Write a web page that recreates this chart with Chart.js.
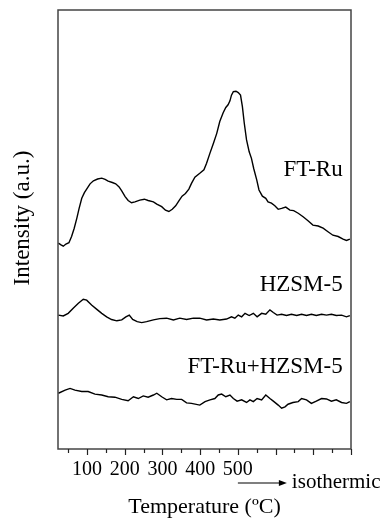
<!DOCTYPE html>
<html>
<head>
<meta charset="utf-8">
<script src="https://cdn.jsdelivr.net/npm/chart.js@4/dist/chart.umd.min.js"></script>
<style>
  body { margin: 0; background: #fff; }
  canvas { display: block; }
</style>
</head>
<body>
<canvas id="tpd" width="385" height="520"></canvas>
<script>
// ─── Data (temperature °C / intensity a.u.) ─────────
const ftRuT = [24, 31, 37, 44, 52, 59, 66, 73, 79, 86, 93, 99, 108, 117, 128, 139, 148, 156, 167, 176,
  185, 192, 201, 209, 218, 227, 240, 252, 262, 276, 285, 298, 308, 317, 326, 335, 344, 352, 361, 370,
  377, 386, 399, 410, 417, 426, 435, 444, 452, 461, 468, 474, 479, 483, 488, 495, 501, 507, 512, 517,
  523, 530, 536, 542, 550, 556, 565, 574, 580, 589, 598, 607, 616, 627, 638, 648, 660, 673, 686, 699,
  713, 726, 739, 752, 766, 779, 788, 797];
const ftRuI = [46.9, 46.5, 46.2, 46.7, 47.0, 48.4, 50.3, 52.6, 54.8, 57.1, 58.4, 59.2, 60.4, 61.1, 61.5, 61.7, 61.4, 61.0, 60.7, 60.4,
  59.7, 58.8, 57.5, 56.6, 56.1, 56.3, 56.7, 56.9, 56.6, 56.3, 55.8, 55.2, 54.4, 54.1, 54.6, 55.4, 56.6, 57.6, 58.2, 59.2,
  60.5, 61.9, 62.8, 63.6, 65.1, 67.4, 69.6, 71.9, 74.6, 76.6, 77.8, 78.4, 79.3, 80.6, 81.4, 81.5, 81.2, 80.6, 78.0, 74.2,
  70.4, 67.7, 66.2, 63.9, 61.3, 59.0, 57.6, 57.1, 56.3, 56.0, 55.4, 54.6, 54.8, 55.1, 54.4, 54.3, 53.7, 52.9, 52.0, 51.0,
  50.8, 50.3, 49.5, 48.7, 48.4, 47.8, 47.5, 47.8];

const hzsmT = [24, 37, 50, 64, 77, 90, 99, 112, 126, 139, 152, 165, 179, 192, 203, 212, 221, 233, 245, 258,
  276, 293, 311, 329, 346, 364, 382, 399, 417, 435, 452, 470, 483, 492, 501, 510, 519, 530, 541, 551,
  563, 574, 585, 594, 604, 616, 629, 642, 656, 669, 682, 695, 708, 722, 735, 748, 761, 775, 788, 797];
const hzsmI = [30.5, 30.3, 30.9, 32.1, 33.2, 34.1, 33.9, 32.8, 31.8, 30.9, 30.1, 29.5, 29.2, 29.4, 30.1, 30.5, 29.5, 29.0, 28.8, 29.0,
  29.4, 29.7, 29.8, 29.4, 29.8, 29.5, 29.8, 29.8, 29.4, 29.6, 29.4, 29.6, 30.1, 29.8, 30.5, 30.1, 30.9, 30.4, 30.9, 30.1,
  30.9, 30.7, 31.7, 31.1, 30.5, 30.7, 30.4, 30.7, 30.4, 30.7, 30.4, 30.7, 30.4, 30.7, 30.5, 30.7, 30.4, 30.5, 30.1, 30.4];

const mixT = [24, 42, 55, 68, 86, 103, 121, 139, 156, 174, 192, 209, 223, 236, 249, 262, 276, 285, 298, 311,
  324, 338, 351, 364, 377, 399, 413, 426, 439, 448, 457, 468, 479, 488, 498, 510, 523, 532, 541, 551,
  563, 574, 585, 594, 607, 616, 625, 633, 646, 660, 669, 682, 695, 708, 722, 735, 748, 761, 775, 788, 797];
const mixI = [12.7, 13.4, 13.8, 13.4, 13.1, 13.1, 12.5, 12.3, 11.9, 11.8, 11.3, 11.0, 11.9, 11.5, 12.1, 11.8, 12.3, 12.7, 11.9, 11.2,
  11.5, 11.3, 11.3, 10.5, 10.4, 10.0, 10.8, 11.2, 11.5, 12.3, 12.5, 11.9, 12.3, 11.5, 10.9, 11.2, 10.6, 11.2, 10.8, 11.5,
  11.2, 12.3, 11.5, 10.9, 10.0, 9.3, 9.6, 10.2, 10.6, 10.8, 11.5, 11.2, 10.4, 10.9, 11.5, 11.4, 10.9, 11.2, 10.6, 10.4, 10.8];

const seriesNames = ['FT-Ru', 'HZSM-5', 'FT-Ru+HZSM-5'];
const labelledTicks = [100, 200, 300, 400, 500];
const tickValues = [50, 100, 150, 200, 250, 300, 350, 400, 450, 500, 550, 600, 650, 700, 750, 800];

// ─── Helpers ────────────────────────────────────────
const SERIF = "'Liberation Serif', 'Times New Roman', serif";
function pts(xs, ys) { return xs.map((x, i) => ({ x, y: ys[i] })); }

// curve labels sit at data coords, right aligned
const curveLabels = [
  { text: seriesNames[0], x: 778, y: 63.6 },
  { text: seriesNames[1], x: 778, y: 37.4 },
  { text: seriesNames[2], x: 778, y: 18.7 },
];

// ─── Frame, tick marks, annotations ─────────────────
const decor = {
  id: 'decor',
  afterDraw(chart) {
    const { ctx, chartArea: a, scales: { x, y } } = chart;
    ctx.save();
    // box
    ctx.strokeStyle = '#444';
    ctx.lineWidth = 1.5;
    ctx.strokeRect(a.left, a.top, a.right - a.left, a.bottom - a.top);

    // outward ticks on bottom axis, long for hundreds
    ctx.lineWidth = 1.2;
    ctx.strokeStyle = '#222';
    x.ticks.forEach(t => {
      const px = Math.round(x.getPixelForValue(t.value)) + 0.5;
      ctx.beginPath();
      ctx.moveTo(px, a.bottom);
      ctx.lineTo(px, a.bottom + (t.value % 100 === 0 ? 6 : 4));
      ctx.stroke();
    });

    // arrow -> isothermic
    const ay = 483;
    const x0 = x.getPixelForValue(500);
    const x1 = x0 + 49;
    ctx.strokeStyle = '#000';
    ctx.lineWidth = 1.2;
    ctx.beginPath();
    ctx.moveTo(x0, ay);
    ctx.lineTo(x1 - 6, ay);
    ctx.stroke();
    ctx.fillStyle = '#000';
    ctx.beginPath();
    ctx.moveTo(x1, ay);
    ctx.lineTo(x1 - 8, ay - 3);
    ctx.lineTo(x1 - 8, ay + 3);
    ctx.closePath();
    ctx.fill();
    ctx.font = `21px ${SERIF}`;
    ctx.textBaseline = 'middle';
    ctx.textAlign = 'left';
    ctx.fillText('isothermic', x1 + 5, ay - 1);

    // y title
    ctx.save();
    ctx.translate(23, 218);
    ctx.rotate(-Math.PI / 2);
    ctx.textAlign = 'center';
    ctx.font = `23px ${SERIF}`;
    ctx.fillText('Intensity (a.u.)', 0, 0);
    ctx.restore();

    // curve labels
    ctx.font = `23px ${SERIF}`;
    ctx.textAlign = 'right';
    curveLabels.forEach(l => {
      ctx.fillText(l.text, x.getPixelForValue(l.x), y.getPixelForValue(l.y));
    });
    ctx.restore();
  }
};

// ─── Chart ──────────────────────────────────────────
const lineStyle = { borderColor: '#000', borderWidth: 1.4, pointRadius: 0, tension: 0, fill: false };

new Chart(document.getElementById('tpd'), {
  type: 'line',
  data: {
    datasets: [
      { label: seriesNames[0], data: pts(ftRuT, ftRuI), ...lineStyle },
      { label: seriesNames[1], data: pts(hzsmT, hzsmI), ...lineStyle },
      { label: seriesNames[2], data: pts(mixT, mixI), ...lineStyle },
    ]
  },
  options: {
    responsive: false,
    animation: false,
    layout: { padding: { left: 58, right: 34, top: 10, bottom: 0 } },
    plugins: { legend: { display: false }, tooltip: { enabled: false } },
    scales: {
      x: {
        type: 'linear',
        min: 23,
        max: 800,
        afterBuildTicks: s => { s.ticks = tickValues.map(v => ({ value: v })); },
        afterFit: s => { s.height = 71; },
        grid: { display: false, drawTicks: false },
        border: { display: false },
        ticks: {
          autoSkip: false,
          maxRotation: 0,
          padding: 9,
          color: '#000',
          font: { family: SERIF, size: 20 },
          callback: v => labelledTicks.includes(v) ? String(v) : ''
        },
        title: {
          display: true,
          text: 'Temperature (ºC)',
          color: '#000',
          font: { family: SERIF, size: 22 },
          padding: 0
        }
      },
      y: {
        display: false,
        min: 0,
        max: 100
      }
    }
  },
  plugins: [decor]
});
</script>
</body>
</html>
